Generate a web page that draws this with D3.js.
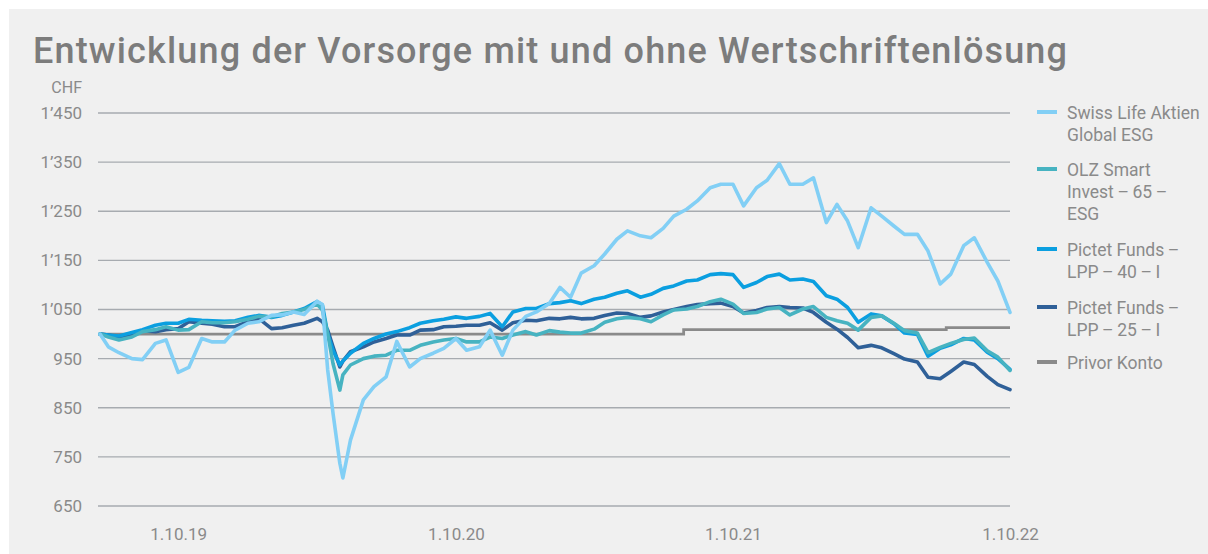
<!DOCTYPE html>
<html>
<head>
<meta charset="utf-8">
<script src="https://cdn.jsdelivr.net/npm/d3@7"></script>
<style>
  body { margin: 0; background: #fff; }
  text { font-family: Roboto, "Liberation Sans", sans-serif; }
</style>
</head>
<body>
<svg id="chart" width="1208" height="554"></svg>
<script>
// semi-monthly sample dates shared by the four funds
var dates = [
  "2019-06-20","2019-07-01","2019-07-15","2019-08-01","2019-08-15","2019-09-01","2019-09-15","2019-10-01","2019-10-15","2019-11-01","2019-11-15","2019-12-01","2019-12-15",
  "2020-01-01","2020-01-15","2020-02-01","2020-02-15","2020-03-01","2020-03-15","2020-04-01","2020-04-08","2020-04-15","2020-04-22","2020-05-01","2020-05-05","2020-05-15","2020-06-01","2020-06-15","2020-07-01","2020-07-15","2020-08-01","2020-08-15","2020-09-01","2020-09-15","2020-10-01","2020-10-15","2020-11-01","2020-11-15","2020-12-01","2020-12-15",
  "2021-01-01","2021-01-15","2021-02-01","2021-02-15","2021-03-01","2021-03-15","2021-04-01","2021-04-15","2021-05-01","2021-05-15","2021-06-01","2021-06-15","2021-07-01","2021-07-15","2021-08-01","2021-08-15","2021-09-01","2021-09-15","2021-10-01","2021-10-15","2021-11-01","2021-11-15","2021-12-01","2021-12-15",
  "2022-01-01","2022-01-15","2022-02-01","2022-02-15","2022-03-01","2022-03-15","2022-04-01","2022-04-15","2022-05-01","2022-05-15","2022-06-01","2022-06-15","2022-07-01","2022-07-15","2022-08-01","2022-08-15","2022-09-01","2022-09-15","2022-10-01"
];

var swissLife = [
  1000, 974, 962, 950, 948, 981, 988, 922, 932, 991, 984, 984, 1008,
  1022, 1025, 1038, 1039, 1045, 1040, 1067, 1060, 927, 839, 737, 707, 784, 866, 893, 913, 985, 933, 950, 961, 971, 991, 967, 974, 1008, 957, 1008,
  1036, 1045, 1062, 1095, 1075, 1124, 1139, 1163, 1193, 1210, 1200, 1196, 1215, 1240, 1254, 1271, 1298, 1305, 1305, 1261, 1298, 1313, 1347, 1305,
  1305, 1318, 1227, 1264, 1230, 1176, 1257, 1240, 1220, 1203, 1203, 1169, 1102, 1122, 1180, 1196, 1146, 1108, 1044
];

var olz = [
  1000, 994, 988, 994, 1005, 1009, 1015, 1008, 1009, 1025, 1023, 1023, 1025,
  1030, 1036, 1035, 1042, 1045, 1050, 1061, 1049, 1001, 940, 886, 917, 937, 950, 955, 957, 967, 967, 977, 984, 988, 991, 984, 984, 994, 991, 998,
  1005, 998, 1007, 1004, 1002, 1002, 1010, 1024, 1031, 1034, 1031, 1025, 1039, 1049, 1051, 1056, 1066, 1071, 1061, 1042, 1044, 1051, 1054, 1039,
  1051, 1056, 1034, 1027, 1022, 1008, 1034, 1037, 1022, 1007, 1002, 962, 973, 981, 989, 992, 966, 953, 926
];

var pictet40 = [
  1000, 998, 996, 1003, 1009, 1018, 1022, 1022, 1030, 1028, 1027, 1026, 1027,
  1034, 1038, 1034, 1038, 1045, 1052, 1066, 1059, 1001, 967, 937, 945, 961, 981, 991, 1000, 1005, 1013, 1022, 1027, 1030, 1035, 1032, 1036, 1042, 1015, 1045,
  1052, 1052, 1062, 1064, 1068, 1062, 1071, 1075, 1083, 1088, 1075, 1081, 1093, 1098, 1108, 1110, 1121, 1123, 1121, 1095, 1105, 1117, 1122, 1110,
  1112, 1107, 1078, 1071, 1054, 1024, 1041, 1037, 1021, 1002, 999, 955, 971, 978, 991, 988, 963, 950, 928
];

var pictet25 = [
  1000, 998, 994, 998, 1007, 1005, 1009, 1011, 1025, 1022, 1020, 1015, 1015,
  1025, 1032, 1011, 1013, 1018, 1022, 1032, 1025, 1008, 974, 933, 945, 964, 974, 984, 991, 998, 998, 1008, 1009, 1015, 1016, 1018, 1018, 1023, 1008, 1023,
  1028, 1027, 1032, 1031, 1034, 1031, 1032, 1038, 1043, 1042, 1034, 1037, 1045, 1050, 1056, 1060, 1062, 1063, 1056, 1043, 1048, 1054, 1056, 1054,
  1053, 1044, 1024, 1010, 993, 972, 977, 972, 960, 949, 943, 912, 909, 924, 943, 938, 914, 897, 887
];

// Privor Konto: interest steps
var privorDates = ["2019-06-20", "2021-07-28", "2022-07-09", "2022-10-01"];
var privorValues = [1000, 1009, 1013, 1013];

var yTicks = [650, 750, 850, 950, 1050, 1150, 1250, 1350, 1450];
var xTicks = ["2019-10-01", "2020-10-01", "2021-10-01", "2022-10-01"];

var legendNames = [
  ["Swiss Life Aktien", "Global ESG"],
  ["OLZ Smart", "Invest\u2009\u2013\u200965\u2009\u2013", "ESG"],
  ["Pictet Funds\u2009\u2013", "LPP\u2009\u2013\u200940\u2009\u2013\u2009I"],
  ["Pictet Funds\u2009\u2013", "LPP\u2009\u2013\u200925\u2009\u2013\u2009I"],
  ["Privor Konto"]
];
var colors = ["#82cff5", "#47b3c1", "#0b9fe0", "#2f6098", "#8a8a8a"];

var parse = d3.timeParse("%Y-%m-%d");
var svg = d3.select("#chart");

svg.append("rect")
  .attr("x", 9).attr("y", 9)
  .attr("width", 1199).attr("height", 545)
  .attr("fill", "#f0f0f0");

svg.append("text")
  .attr("x", 33).attr("y", 63)
  .attr("font-size", 36)
  .attr("font-weight", 500)
  .attr("fill", "#7c7c7c")
  .attr("textLength", 1034)
  .attr("lengthAdjust", "spacing")
  .text("Entwicklung der Vorsorge mit und ohne Wertschriftenlösung");

var x = d3.scaleTime()
  .domain([parse(dates[0]), parse(dates[dates.length - 1])])
  .range([100, 1010]);

var y = d3.scaleLinear()
  .domain([650, 1450])
  .range([506, 113]);

var chLocale = d3.formatLocale({decimal: ".", thousands: "\u2019", grouping: [3], currency: ["", ""]});
var fmt = chLocale.format(",");

// gridlines
svg.append("g").selectAll("line")
  .data(yTicks)
  .join("line")
  .attr("x1", 98).attr("x2", 1010)
  .attr("y1", d => y(d)).attr("y2", d => y(d))
  .attr("stroke", "#a7abb0")
  .attr("stroke-width", 1.4);

// y axis labels
var yAxis = svg.append("g")
  .attr("transform", "translate(82,0)")
  .call(d3.axisLeft(y).tickValues(yTicks).tickSize(0).tickPadding(0).tickFormat(fmt));
yAxis.select(".domain").remove();
yAxis.selectAll("text")
  .attr("font-size", 17)
  .attr("fill", "#8a8a8a")
  .style("font-family", "Roboto, sans-serif");

svg.append("text")
  .attr("x", 82).attr("y", 93)
  .attr("text-anchor", "end")
  .attr("font-size", 16)
  .attr("fill", "#8a8a8a")
  .text("CHF");

// x axis labels
var xAxis = svg.append("g")
  .attr("transform", "translate(0,528)")
  .call(d3.axisBottom(x).tickValues(xTicks.map(parse)).tickSize(0).tickPadding(0)
    .tickFormat(d3.timeFormat("%-d.%-m.%y")));
xAxis.select(".domain").remove();
xAxis.selectAll("text")
  .attr("font-size", 17)
  .attr("fill", "#8a8a8a")
  .style("font-family", "Roboto, sans-serif");

// series lines
var line = d3.line()
  .x(d => x(d.date))
  .y(d => y(d.value));

function toPoints(dArr, vArr) {
  return dArr.map((d, i) => ({date: parse(d), value: vArr[i]}));
}

svg.append("path")
  .datum(toPoints(privorDates, privorValues))
  .attr("fill", "none")
  .attr("stroke", colors[4])
  .attr("stroke-width", 2.8)
  .attr("d", line.curve(d3.curveStepAfter));

line.curve(d3.curveLinear);
var funds = [pictet25, pictet40, olz, swissLife];
var fundColors = [colors[3], colors[2], colors[1], colors[0]];
funds.forEach(function (vals, i) {
  svg.append("path")
    .datum(toPoints(dates, vals))
    .attr("fill", "none")
    .attr("stroke", fundColors[i])
    .attr("stroke-width", 3.6)
    .attr("stroke-linejoin", "round")
    .attr("stroke-linecap", "round")
    .attr("d", line);
});

// legend
var legendY = [112, 169, 249, 307, 362];
var legend = svg.append("g");
legendNames.forEach(function (lines, i) {
  var g = legend.append("g").attr("transform", "translate(0," + legendY[i] + ")");
  g.append("line")
    .attr("x1", 1037).attr("x2", 1057)
    .attr("y1", 0).attr("y2", 0)
    .attr("stroke", colors[i])
    .attr("stroke-width", 4);
  var t = g.append("text")
    .attr("x", 1067).attr("y", 6.5)
    .attr("font-size", 17.5)
    .attr("fill", "#8a8a8a");
  lines.forEach(function (s, j) {
    t.append("tspan").attr("x", 1067).attr("dy", j === 0 ? 0 : 22.3).text(s);
  });
});
</script>
</body>
</html>
